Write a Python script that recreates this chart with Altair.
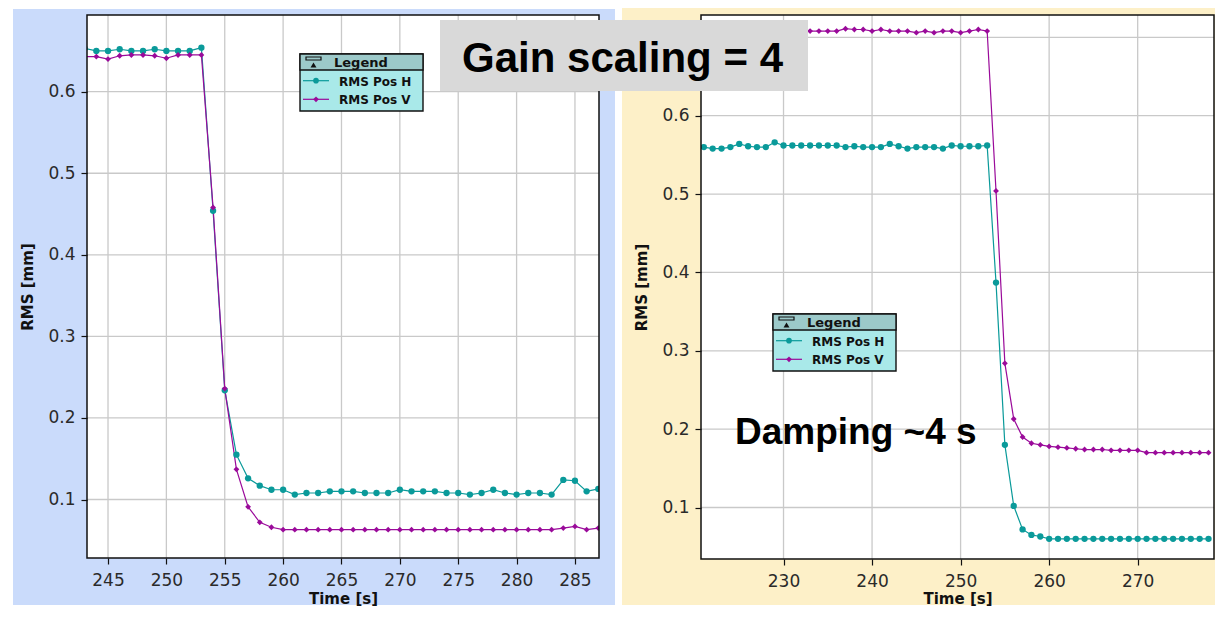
import altair as alt
import pandas as pd

# ---------------- data ----------------
series_names = ["RMS Pos H", "RMS Pos V"]
series_colors = ["#0a9a9a", "#9a0a9a"]
series_shapes = ["circle", "diamond"]

left_time = list(range(243, 288))
left_h = [0.653, 0.650, 0.650, 0.652, 0.650, 0.650, 0.652, 0.650, 0.650, 0.650, 0.654,
          0.454, 0.234, 0.155, 0.126, 0.117, 0.112, 0.112,
          0.106, 0.108, 0.108, 0.110, 0.110, 0.110, 0.108, 0.108, 0.108, 0.112, 0.110,
          0.110, 0.110, 0.108, 0.108, 0.106, 0.108, 0.112, 0.108, 0.106, 0.108, 0.108,
          0.106, 0.124, 0.123, 0.110, 0.113]
left_v = [0.643, 0.643, 0.640, 0.644, 0.645, 0.645, 0.644, 0.641, 0.645, 0.645, 0.645,
          0.458, 0.236, 0.137, 0.091, 0.072, 0.066, 0.063,
          0.063, 0.063, 0.063, 0.063, 0.063, 0.063, 0.063, 0.063, 0.063, 0.063, 0.063,
          0.063, 0.063, 0.063, 0.063, 0.063, 0.063, 0.063, 0.063, 0.063, 0.063, 0.063,
          0.063, 0.065, 0.067, 0.063, 0.065]

right_time = list(range(221, 279))
right_h = [0.560, 0.558, 0.558, 0.560, 0.564, 0.561, 0.560, 0.560, 0.566, 0.562,
           0.562, 0.562, 0.562, 0.562, 0.562, 0.562, 0.560, 0.561, 0.560, 0.560,
           0.560, 0.564, 0.561, 0.558, 0.560, 0.560, 0.560, 0.558, 0.562, 0.561,
           0.561, 0.561, 0.562,
           0.387, 0.180, 0.102, 0.072, 0.065, 0.063,
           0.060, 0.060, 0.060, 0.060, 0.060, 0.060, 0.060, 0.060, 0.060, 0.060,
           0.060, 0.060, 0.060, 0.060, 0.060, 0.060, 0.060, 0.060, 0.060]
right_v = [0.708, 0.706, 0.708, 0.710, 0.708, 0.708, 0.706, 0.708, 0.710, 0.708,
           0.708, 0.708,
           0.708, 0.708, 0.708, 0.708, 0.711, 0.710, 0.710, 0.708, 0.710, 0.708,
           0.708, 0.708, 0.706, 0.708, 0.706, 0.708, 0.708, 0.706, 0.708, 0.710, 0.708,
           0.504, 0.284, 0.213, 0.190, 0.182, 0.180, 0.178, 0.177, 0.176, 0.175,
           0.174, 0.174, 0.174, 0.173, 0.173, 0.173, 0.173,
           0.170, 0.170, 0.170, 0.170, 0.170, 0.170, 0.170, 0.170]

left_xticks = [245, 250, 255, 260, 265, 270, 275, 280, 285]
left_ygrid = [0.1, 0.2, 0.3, 0.4, 0.5, 0.6]
left_ylabels = [0.1, 0.2, 0.3, 0.4, 0.5, 0.6]
right_xticks = [230, 240, 250, 260, 270]
right_ygrid = [0.1, 0.2, 0.3, 0.4, 0.5, 0.6, 0.7]
right_ylabels = [0.1, 0.2, 0.3, 0.4, 0.5, 0.6]

left_xdomain = [243.2, 287.06]
left_ydomain = [0.0283, 0.6940]
right_xdomain = [220.68, 278.62]
right_ydomain = [0.0343, 0.7285]

x_title = "Time [s]"
y_title = "RMS [mm]"
legend_title = "Legend"
banner_text = "Gain scaling = 4"
note_text = "Damping ~4 s"

# ---------------- styling ----------------
LABEL_FONT = "DejaVu Sans"
BLUE_BG = "#cadbfb"
CREAM_BG = "#fdf0c8"
GRID = "#c9c9c9"
ONE = alt.Data(values=[{}])


def deco_rect(x0, x1, y0, y1, **kw):
    return alt.Chart(ONE).mark_rect(**kw).encode(
        x=alt.value(x0), x2=alt.value(x1), y=alt.value(y0), y2=alt.value(y1))


def deco_text(x, y, text, **kw):
    return alt.Chart(ONE).mark_text(text=text, **kw).encode(
        x=alt.value(x), y=alt.value(y))


def legend_layers(bx, by):
    w, h = 123, 57
    layers = [
        deco_rect(bx, bx + w, by, by + h, fill="#a9e9e9", stroke="#111", strokeWidth=1.4),
        deco_rect(bx, bx + w, by, by + 16, fill="#9cc9c9", stroke="#111", strokeWidth=1.4),
        deco_rect(bx + 6, bx + 21, by + 3, by + 6, fillOpacity=0, stroke="#111", strokeWidth=1.2),
        alt.Chart(ONE).mark_point(shape="triangle-up", filled=True, color="#111", size=35, opacity=1)
        .encode(x=alt.value(bx + 13.5), y=alt.value(by + 11)),
        deco_text(bx + 34, by + 13, legend_title, align="left", baseline="alphabetic",
                  font=LABEL_FONT, fontSize=13, fontWeight="bold", color="#111"),
    ]
    for i, (name, col, shp) in enumerate(zip(series_names, series_colors, series_shapes)):
        yy = by + 26.7 + i * 18.6
        layers.append(alt.Chart(ONE).mark_rule(color=col, strokeWidth=1.2)
                      .encode(x=alt.value(bx + 3), x2=alt.value(bx + 29), y=alt.value(yy)))
        layers.append(alt.Chart(ONE).mark_point(shape=shp, filled=True, color=col, size=32, opacity=1)
                      .encode(x=alt.value(bx + 16), y=alt.value(yy)))
        layers.append(deco_text(bx + 39, yy + 5, name, align="left", baseline="alphabetic",
                                font=LABEL_FONT, fontSize=12, fontWeight="bold", color="#111"))
    return layers


def panel(time, h, v, xdom, ydom, xticks, ygrid, ylabels, W, H, bg, bgbox,
          legend_xy, title_y, extras):
    n = len(time)
    df = pd.DataFrame({
        "t": time + time,
        "val": h + v,
        "series": [series_names[0]] * n + [series_names[1]] * n,
    })
    xs = alt.Scale(domain=xdom, nice=False, zero=False)
    ys = alt.Scale(domain=ydom, nice=False, zero=False)
    color = alt.Color("series:N", scale=alt.Scale(domain=series_names, range=series_colors), legend=None)
    shape = alt.Shape("series:N", scale=alt.Scale(domain=series_names, range=series_shapes), legend=None)
    size = alt.Size("series:N", scale=alt.Scale(domain=series_names, range=[40, 34]), legend=None)

    x_axis = alt.Axis(values=xticks, format="d", title=x_title, grid=False, domain=False, zindex=2,
                      tickColor="#111", tickSize=6, tickWidth=1.2, labelPadding=8,
                      labelFont=LABEL_FONT, labelFontSize=17, labelColor="#2a2a2a",
                      titleFont=LABEL_FONT, titleFontSize=15, titleFontWeight="bold", titleColor="#111",
                      titleBaseline="alphabetic", titleY=title_y, titleX=W / 2, titleAlign="center")
    y_axis = alt.Axis(values=ylabels, format=".1f", title=y_title, grid=False, domain=False, zindex=2,
                      tickColor="#111", tickSize=6, tickWidth=1.2, labelPadding=6,
                      labelFont=LABEL_FONT, labelFontSize=17, labelColor="#2a2a2a",
                      titleFont=LABEL_FONT, titleFontSize=15, titleFontWeight="bold", titleColor="#111",
                      titleAngle=270, titleBaseline="alphabetic", titleAlign="center",
                      titleX=-55, titleY=H / 2)

    bgx0, bgx1, bgy0, bgy1 = bgbox
    background = deco_rect(bgx0, bgx1, bgy0, bgy1, color=bg)
    white = deco_rect(0, W, 0, H, color="white")
    vgrid = alt.Chart(pd.DataFrame({"t": xticks})).mark_rule(color=GRID, strokeWidth=1.3).encode(
        x=alt.X("t:Q", scale=xs, axis=x_axis))
    hgrid = alt.Chart(pd.DataFrame({"val": ygrid})).mark_rule(color=GRID, strokeWidth=1.3, clip=True).encode(
        y=alt.Y("val:Q", scale=ys, axis=y_axis))
    lines = alt.Chart(df).mark_line(strokeWidth=1.2, clip=True).encode(
        x=alt.X("t:Q", scale=xs, axis=x_axis),
        y=alt.Y("val:Q", scale=ys, axis=y_axis),
        color=color,
    )
    points = alt.Chart(df).mark_point(filled=True, opacity=1, clip=True).encode(
        x=alt.X("t:Q", scale=xs, axis=x_axis),
        y=alt.Y("val:Q", scale=ys, axis=y_axis),
        color=color,
        shape=shape,
        size=size,
    )
    frame = deco_rect(0, W, 0, H, fillOpacity=0, stroke="#111", strokeWidth=1.5)
    layers = [background, white, vgrid, hgrid, lines, points, frame] + legend_layers(*legend_xy) + extras
    return alt.layer(*layers).properties(width=W, height=H)


LW, LH = 512, 543
RW, RH = 513, 544

left = panel(left_time, left_h, left_v, left_xdomain, left_ydomain, left_xticks, left_ygrid,
             left_ylabels, LW, LH, BLUE_BG, (-74, 528, -6, 590), (213, 39), 45, [])

right_extras = [
    deco_rect(-261, 107, 5, 76, color="#d9d9d9"),
    deco_text(-78.5, 57, banner_text, align="center", baseline="alphabetic",
              font="Liberation Sans", fontSize=42, fontWeight="bold", color="#000"),
    deco_text(34, 429, note_text, align="left", baseline="alphabetic",
              font="Liberation Sans", fontSize=37, fontWeight="bold", color="#000"),
]
right = panel(right_time, right_h, right_v, right_xdomain, right_ydomain, right_xticks, right_ygrid,
              right_ylabels, RW, RH, CREAM_BG, (-79, 514, -7, 590), (72, 299), 44, right_extras)

chart = alt.hconcat(left, right, spacing=102, bounds="flush").properties(
    padding={"left": 5, "top": 0, "right": 0, "bottom": 0},
    background="white",
).configure_view(strokeWidth=0)

chart.save("out.html", embed_options={"renderer": "svg", "actions": False})
